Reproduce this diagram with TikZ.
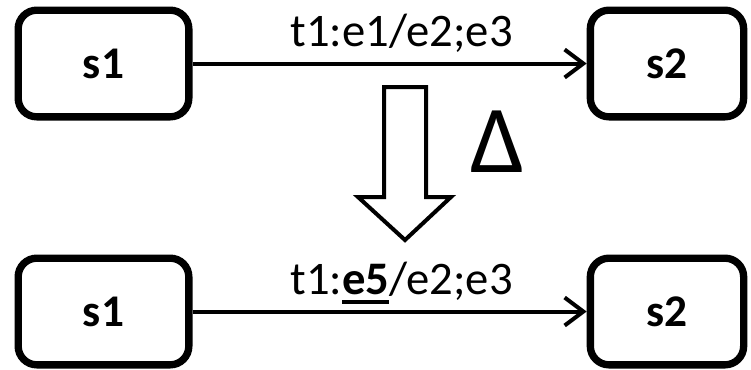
\documentclass[tikz,border=0pt]{standalone}
\usepackage{fontspec}
\setmainfont{Carlito}
\usetikzlibrary{arrows.meta}

% heavy underline for the changed event
\newcommand\thickul[1]{\setbox0\hbox{#1}\rlap{\rule[-7pt]{\wd0}{2.6pt}}\box0}

\begin{document}
\begin{tikzpicture}[
    x=0.75pt, y=-0.75pt,
    state/.style={rectangle, draw, line width=5.5pt, rounded corners=14pt, minimum width=128pt, minimum height=80pt, font=\bfseries\fontsize{34}{40}\selectfont},
    trans/.style={draw, line width=3pt, -{Straight Barb[length=14pt, width=21pt, line width=3pt]}},
    lbl/.style={midway, anchor=base, yshift=12.75pt, xshift=9pt, font=\fontsize{35}{42}\selectfont}
]
    \useasboundingbox (0,0) rectangle (751,369);

    % original transition
    \node [state] (s1a) at (103.5,63.5) {s1};
    \node [state, minimum width=115pt] (s2a) at (667,63.5) {s2};
    \draw [trans] (s1a) -- (s2a) node [lbl] {t1:e1/e2;e3};

    % change step
    \draw [line width=3pt, miter limit=10, fill=white] (384,87) -- (426,87) -- (426,197) -- (451,197) -- (405,240) -- (358,197) -- (384,197) -- cycle;
    \node [font=\fontsize{72}{80}\selectfont] (delta) at (498,142) {Δ};

    % modified transition
    \node [state] (s1b) at (103.5,311.5) {s1};
    \node [state, minimum width=115pt] (s2b) at (667,311.5) {s2};
    \draw [trans] (s1b) -- (s2b) node [lbl] {t1:\thickul{\textbf{e5}}/e2;e3};
\end{tikzpicture}
\end{document}
